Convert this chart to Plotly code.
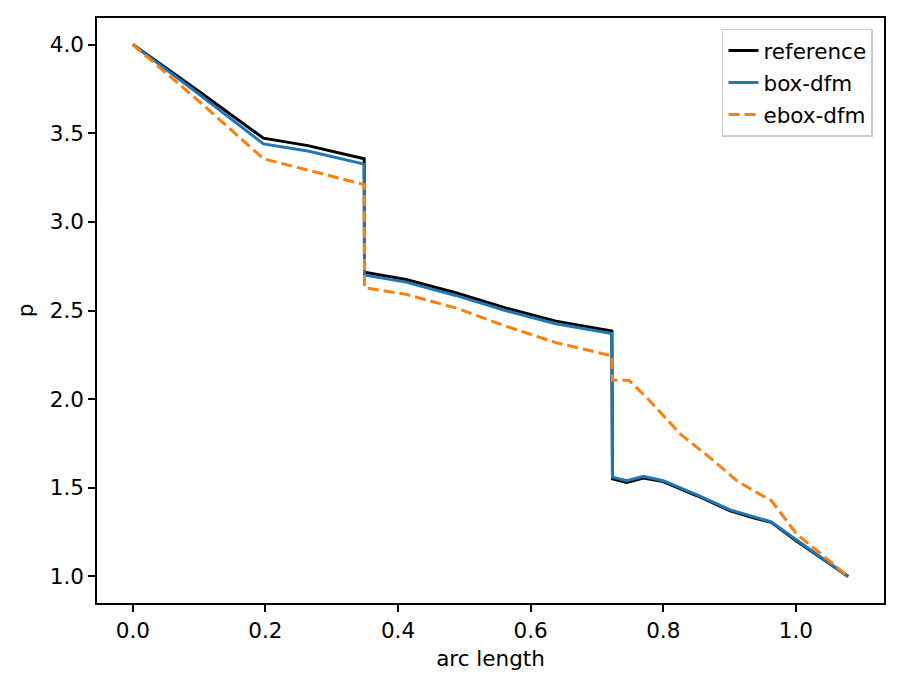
import plotly.graph_objects as go

# reference solution
ref_x = [0.0, 0.1, 0.197, 0.264, 0.349, 0.3495, 0.412, 0.487, 0.562, 0.638, 0.7225, 0.7235,
         0.745, 0.770, 0.80, 0.851, 0.901, 0.936, 0.963, 1.001, 1.079]
ref_p = [4.0, 3.735, 3.472, 3.43, 3.356, 2.716, 2.675, 2.60, 2.515, 2.44, 2.384, 1.55,
         1.53, 1.555, 1.535, 1.455, 1.37, 1.33, 1.305, 1.20, 1.0]

# box-dfm
box_x = [0.0, 0.1, 0.197, 0.264, 0.349, 0.3495, 0.412, 0.487, 0.562, 0.638, 0.7225, 0.7235,
         0.745, 0.770, 0.80, 0.851, 0.901, 0.936, 0.963, 1.001, 1.079]
box_p = [4.0, 3.72, 3.44, 3.40, 3.326, 2.70, 2.66, 2.585, 2.50, 2.425, 2.37, 1.56,
         1.54, 1.565, 1.54, 1.46, 1.375, 1.335, 1.308, 1.205, 1.0]

# ebox-dfm
ebox_x = [0.0, 0.1, 0.197, 0.349, 0.3495, 0.412, 0.487, 0.562, 0.638, 0.7225, 0.7235, 0.748,
          0.775, 0.826, 0.876, 0.911, 0.936, 0.963, 1.001, 1.079]
ebox_p = [4.0, 3.68, 3.356, 3.21, 2.628, 2.591, 2.515, 2.412, 2.319, 2.244, 2.107, 2.107,
          2.009, 1.803, 1.653, 1.54, 1.484, 1.428, 1.24, 1.0]

x_ticks = [0.0, 0.2, 0.4, 0.6, 0.8, 1.0]
y_ticks = [1.0, 1.5, 2.0, 2.5, 3.0, 3.5, 4.0]

FONT = "DejaVu Sans"
FS = 21.5

fig = go.Figure()
fig.add_trace(go.Scatter(x=ref_x, y=ref_p, mode="lines", name="reference", legendgroup="a",
                         line=dict(color="black", width=3)))
fig.add_trace(go.Scatter(x=box_x, y=box_p, mode="lines", name="box-dfm", legendgroup="b",
                         line=dict(color="#1f77b4", width=3)))
fig.add_trace(go.Scatter(x=ebox_x, y=ebox_p, mode="lines", name="ebox-dfm", legendgroup="c",
                         line=dict(color="#ff7f0e", width=3, dash="11px,5px")))

axis_common = dict(
    showgrid=False, zeroline=False, showline=True, linecolor="black", linewidth=1.5,
    mirror=True, ticks="outside", ticklen=7, tickwidth=1.5, tickcolor="black",
    tickfont=dict(family=FONT, size=FS, color="black"), tickformat=".1f",
)

fig.update_layout(
    width=900, height=686,
    margin=dict(l=89, r=24, t=8, b=91),
    paper_bgcolor="white", plot_bgcolor="white",
    font=dict(family=FONT, size=FS, color="black"),
    xaxis=dict(range=[-0.054, 1.133], tickvals=x_ticks,
               title=dict(text="arc length", font=dict(family=FONT, size=FS), standoff=9),
               **axis_common),
    yaxis=dict(range=[0.85, 4.15], tickvals=y_ticks,
               title=dict(text="p", font=dict(family=FONT, size=FS), standoff=10),
               **axis_common),
    legend=dict(x=0.986, y=0.982, xanchor="right", yanchor="top",
                bgcolor="rgba(255,255,255,0.8)", bordercolor="#cccccc", borderwidth=1.5,
                font=dict(family=FONT, size=FS), tracegroupgap=1),
    showlegend=True,
)

fig.write_html("out.html")
